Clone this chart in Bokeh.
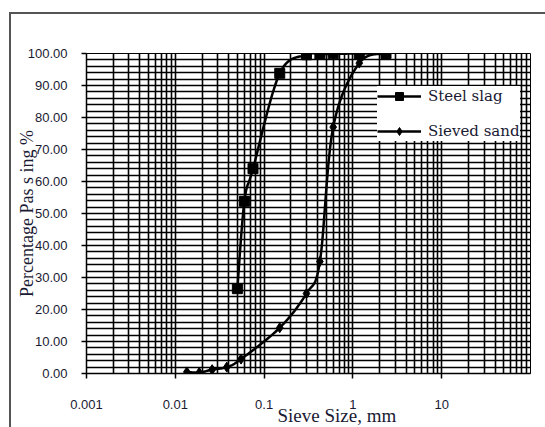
import numpy as np
from bokeh.plotting import figure
from bokeh.models import (Range1d, FixedTicker, NumeralTickFormatter, CustomJSTickFormatter,
                          Legend, LegendItem, Title)
from bokeh.embed import file_html
from bokeh.resources import INLINE

# ---------------- data ----------------
slag_size = [0.05, 0.06, 0.075, 0.15, 0.3, 0.425, 0.6, 1.18, 2.36]
slag_pass = [26.5, 53.8, 64.0, 93.8, 99.6, 99.8, 99.9, 100.0, 100.0]

sand_size = [0.0135, 0.0186, 0.026, 0.038, 0.055, 0.15, 0.3, 0.425, 0.6, 1.18, 2.36]
sand_pass = [0.5, 0.3, 1.2, 2.0, 4.5, 14.3, 25.0, 35.0, 77.0, 97.0, 100.0]

x_major = [0.001, 0.01, 0.1, 1, 10]
y_major = [0, 10, 20, 30, 40, 50, 60, 70, 80, 90, 100]


def smooth(xs, ys, n=24):
    """Catmull-Rom path through the points (log-x space), like a smoothed line."""
    pts = np.column_stack([np.log10(xs), ys])
    P = np.vstack([pts[0], pts, pts[-1]])
    out = []
    t = np.linspace(0, 1, n, endpoint=False)[:, None]
    for i in range(1, len(P) - 2):
        p0, p1, p2, p3 = P[i - 1], P[i], P[i + 1], P[i + 2]
        seg = 0.5 * ((2 * p1) + (-p0 + p2) * t + (2 * p0 - 5 * p1 + 4 * p2 - p3) * t ** 2
                     + (-p0 + 3 * p1 - 3 * p2 + p3) * t ** 3)
        out.append(seg)
    out.append(pts[-1:])
    arr = np.vstack(out)
    return 10 ** arr[:, 0], arr[:, 1]


SERIF = "'Liberation Serif', serif"
SANS = "Liberation Sans"

p = figure(x_axis_type="log", x_range=Range1d(0.001, 100), y_range=Range1d(0, 100),
           frame_width=444, frame_height=320,
           min_border_left=75, min_border_top=39, min_border_right=15, min_border_bottom=54,
           output_backend="svg", toolbar_location=None)
p.styles = {"margin-left": "9px", "margin-top": "12px",
            "border-left": "2px solid #555", "border-top": "2px solid #555"}

p.background_fill_color = "white"
p.border_fill_color = "white"
p.outline_line_color = "black"

# grid
grid_x = [m * 10.0 ** e for e in range(-3, 2) for m in range(1, 10)] + [100]
p.xgrid.ticker = FixedTicker(ticks=grid_x)
p.ygrid.ticker = FixedTicker(ticks=list(range(0, 101, 2)))
for g in (p.xgrid, p.ygrid):
    g.grid_line_color = "black"
    g.grid_line_width = 1.6
    g.grid_line_alpha = 1.0

# axes
p.xaxis.ticker = FixedTicker(ticks=x_major)
p.xaxis.formatter = CustomJSTickFormatter(code="return tick.toString();")
p.yaxis.ticker = FixedTicker(ticks=y_major)
p.yaxis.formatter = NumeralTickFormatter(format="0.00")
for ax in (p.xaxis, p.yaxis):
    ax.axis_line_color = "black"
    ax.axis_line_width = 1.5
    ax.major_tick_line_color = "black"
    ax.major_tick_line_width = 1.5
    ax.major_tick_out = 5
    ax.major_tick_in = 0
    ax.minor_tick_line_color = None
    ax.major_label_text_font = SANS
    ax.major_label_text_font_size = "13px"
    ax.major_label_text_color = "#1a1a33"
p.xaxis.major_label_standoff = 21
p.yaxis.major_label_standoff = 14

# y axis title
p.yaxis.axis_label = "Percentage Pas s ing %"
p.yaxis.axis_label_text_font = SERIF
p.yaxis.axis_label_text_font_style = "normal"
p.yaxis.axis_label_text_font_size = "18px"
p.yaxis.axis_label_text_color = "#1a1a33"
p.yaxis.axis_label_standoff = -12

# x axis title as a title in the bottom panel
p.add_layout(Title(text="Sieve Size, mm", align="left", offset=191, standoff=-17,
                   text_font=SERIF, text_font_style="normal", text_font_size="19px",
                   text_color="#1a1a33"), "below")

# series
sx, sy = smooth(slag_size, slag_pass)
l1 = p.line(sx, sy, line_color="black", line_width=2.5)
m1 = p.scatter(slag_size, slag_pass, marker="square", size=10, fill_color="black", line_color="black")

dx, dy = smooth(sand_size, sand_pass)
l2 = p.line(dx, dy, line_color="black", line_width=2.5)
m2 = p.scatter(sand_size, sand_pass, marker="diamond", size=10, fill_color="black", line_color="black")

legend = Legend(items=[LegendItem(label="Steel slag", renderers=[l1, m1]),
                       LegendItem(label="Sieved sand", renderers=[l2, m2])],
                location=(291, 232), orientation="vertical",
                glyph_width=44, glyph_height=20, label_height=20, label_standoff=7,
                spacing=15, padding=4, margin=0,
                background_fill_color="white", background_fill_alpha=1.0,
                border_line_color=None,
                label_text_font="DejaVu Serif", label_text_font_style="normal",
                label_text_font_size="15px", label_text_color="#1a1a33")
p.add_layout(legend)

open("out.html", "w").write(file_html(p, INLINE))
